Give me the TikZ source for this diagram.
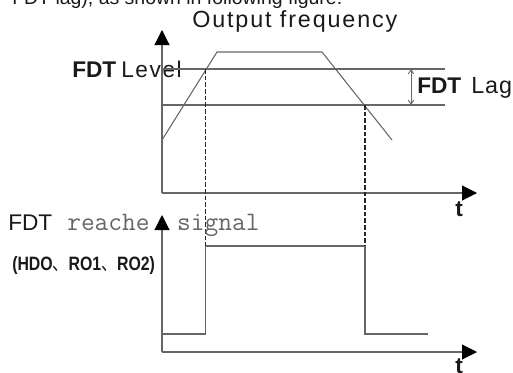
\documentclass[tikz,border=0pt]{standalone}
\usepackage{fontspec}
\setmainfont{Liberation Sans}
\newfontfamily\cjkf{Noto Sans CJK SC}
\usetikzlibrary{arrows.meta}
\tikzset{
  ax/.style={draw=black!60, line width=0.8pt},
  axarrow/.style={ax, -{Triangle[length=11.25pt,width=11.25pt,color=black]}},
  curve/.style={draw=black!60, line width=0.8pt, line join=miter},
  dline/.style={draw=black!85, line width=0.8pt, dash pattern=on 3.5pt off 1.5pt},
  lagarrow/.style={draw=black!60, line width=0.7pt, {Straight Barb[length=3pt,width=4pt]}-{Straight Barb[length=3pt,width=4pt]}},
  txt/.style={anchor=base west, inner sep=0pt, text=black!90},
}
\begin{document}
\begin{tikzpicture}[x=0.75pt,y=-0.75pt]
\useasboundingbox (0,0) rectangle (513,372);
\clip (0,0) rectangle (513,372);
% cut-off text line at the top
\node[txt, font=\fontsize{14.6pt}{17pt}\selectfont] (intro) at (12,4) {FDT lag), as shown in following figure.};
% ---------------- upper chart ----------------
\coordinate (o1) at (162,193);
\coordinate (y1) at (162,30);
\coordinate (x1) at (477,193);
\draw[axarrow] (o1) -- (y1);
\draw[axarrow] (o1) -- (x1);
\node[txt, font=\fontsize{17.5pt}{20pt}\selectfont\addfontfeature{LetterSpace=8}] (outf) at (192,27) {Output frequency};
\node[txt, font=\fontsize{17pt}{20pt}\selectfont\bfseries] (fdtA) at (72,77) {FDT};
\node[txt, font=\fontsize{17pt}{20pt}\selectfont\addfontfeature{LetterSpace=7}] (lev) at (121,77) {Level};
\node[txt, font=\fontsize{17pt}{20pt}\selectfont\bfseries] (fdtB) at (417,93) {FDT};
\node[txt, font=\fontsize{17.5pt}{20pt}\selectfont\addfontfeature{LetterSpace=4}] (lag) at (471,93) {Lag};
\node[txt, font=\fontsize{17pt}{20pt}\selectfont\bfseries] (t1) at (455,216) {t};
% level lines
\coordinate (l1a) at (162,69);
\coordinate (l1b) at (445,69);
\coordinate (l2a) at (162,105);
\coordinate (l2b) at (445,105);
\draw[ax] (l1a) -- (l1b);
\draw[ax] (l2a) -- (l2b);
% FDT lag dimension
\coordinate (lagT) at (411,69);
\coordinate (lagB) at (411,105);
\draw[lagarrow] (lagT) -- (lagB);
% frequency curve
\coordinate (c0) at (162,140);
\coordinate (c1) at (217,52);
\coordinate (c2) at (322,52);
\coordinate (c3) at (392,140);
\draw[curve] (c0) -- (c1) -- (c2) -- (c3);
% ---------------- lower chart ----------------
\coordinate (o2) at (162,352);
\coordinate (y2) at (162,215);
\coordinate (x2) at (477,352);
% signal
\coordinate (s0) at (162,334);
\coordinate (s1) at (205.5,334);
\coordinate (s2) at (205.5,246);
\coordinate (s3) at (365,246);
\coordinate (s4) at (365,334);
\coordinate (s5) at (428,334);
\draw[curve] (s0) -- (s1) -- (s2) -- (s3) -- (s4) -- (s5);
% dashed projections
\coordinate (dA) at (205.5,69);
\coordinate (dB) at (365,105);
\draw[dline] (dA) -- (s2);
\draw[dline] (dB) -- (s3);
\node[txt, font=\fontsize{17pt}{20pt}\selectfont] (fdtC) at (8,230) {FDT};
\node[txt, font=\fontsize{20pt}{22pt}\selectfont\ttfamily, text=black!60] (reached) at (67,230) {reache\phantom{d} signal};
\node[txt, font=\fontsize{14.5pt}{17pt}\selectfont\bfseries] (hdo) at (12,270) {\scalebox{0.82}[1]{(HDO{\cjkf\mdseries 、}RO1{\cjkf\mdseries 、}RO2)}};
\draw[axarrow] (o2) -- (y2);
\draw[axarrow] (o2) -- (x2);
\node[txt, font=\fontsize{17pt}{20pt}\selectfont\bfseries] (t2) at (455,373) {t};
\end{tikzpicture}
\end{document}
